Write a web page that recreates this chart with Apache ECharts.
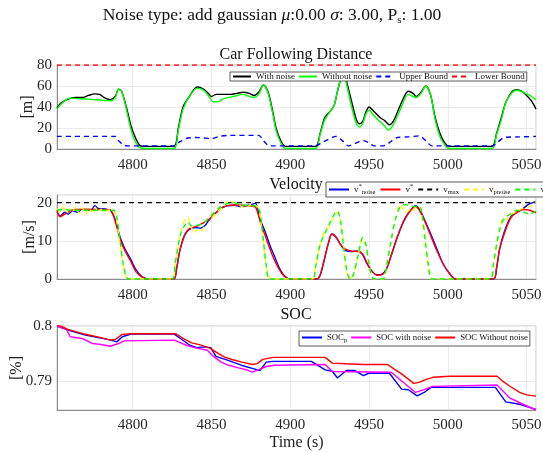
<!DOCTYPE html>
<html>
<head>
<meta charset="utf-8">
<script src="https://cdn.jsdelivr.net/npm/echarts@6/dist/echarts.min.js"></script>
<style>
  html, body { margin: 0; padding: 0; background: #fff; }
  #chart { width: 543px; height: 452px; }
</style>
</head>
<body>
<div id="chart"></div>
<script>
// ---- data ----
const timeRange = [4752, 5056];

// Car following distance [m]
const distWithNoise = [[4752,39],[4754,43],[4757,46],[4760,48],[4764,49],[4768,49],[4772,51],[4776,52.5],[4779,52],[4782,49],[4786,47],[4789,50],[4791,57],[4793,55],[4796,40],[4799,22],[4802,10],[4805,3],[4808,2.5],[4826,2.5],[4829,20],[4832,40],[4836,50],[4841,59],[4845,57],[4848,53],[4850,50],[4853,52],[4858,52],[4862,52],[4866,53],[4870,54],[4874,53],[4877,51],[4880,54],[4883,61],[4886,54],[4889,35],[4891,20],[4894,8],[4897,2.5],[4916,2.5],[4919,15],[4922,30],[4926,37],[4928,42],[4930,55],[4932,66],[4934,71],[4936,63],[4939,45],[4942,28],[4944,24],[4946,26],[4948,35],[4950,40],[4953,36],[4957,30],[4960,27],[4963,23],[4966,28],[4970,42],[4975,55],[4978,53],[4980,50],[4983,54],[4986,60],[4989,52],[4992,30],[4995,15],[4998,6],[5001,2.5],[5028,2.5],[5031,15],[5034,30],[5037,45],[5041,55],[5044,56.5],[5047,55],[5050,51],[5053,46],[5056,38]];
const distWithoutNoise = [[4752,38],[4754,42],[4757,46],[4760,48.5],[4765,48],[4772,47.5],[4780,46.5],[4786,46],[4789,49],[4791,57],[4793,55],[4796,38],[4799,18],[4802,6],[4805,1],[4808,0.5],[4826,0.5],[4829,18],[4832,38],[4836,50],[4841,58],[4845,56],[4849,49],[4851,45],[4854,45],[4858,48],[4864,50],[4870,52],[4874,50],[4877,49],[4880,52],[4883,61],[4886,53],[4889,33],[4891,18],[4894,6],[4897,0.5],[4916,0.5],[4919,14],[4922,28],[4926,37],[4928,42],[4930,55],[4932,66],[4934,70],[4936,60],[4939,40],[4942,24],[4944,21],[4946,24],[4948,33],[4950,37],[4953,32],[4957,26],[4960,22],[4962,18],[4965,22],[4970,38],[4975,52],[4978,50],[4980,49],[4983,53],[4986,60],[4989,52],[4992,28],[4995,12],[4998,4],[5001,0.5],[5028,0.5],[5031,14],[5034,28],[5037,45],[5041,54],[5044,56],[5048,54],[5052,51],[5056,47]];
const distUpperBound = [[4752,12],[4789,12],[4791,8],[4794,4],[4797,3],[4826,3],[4830,7],[4834,10],[4840,11],[4845,10.5],[4850,10],[4855,12],[4861,13],[4880,13],[4883,8],[4887,3],[4916,3],[4920,6],[4924,9],[4929,12],[4933,8],[4937,3],[4941,5],[4946,8],[4950,6],[4953,3],[4959,3],[4963,6],[4968,11],[4975,11.5],[4982,12.5],[4986,8],[4990,3],[5028,3],[5032,7],[5036,11],[5045,11.5],[5056,12]];
const distLowerBound = [[4752,80],[5056,80]];

// Velocity [m/s]
const velNoise = [[4752,17.5],[4754,16.5],[4757,17.5],[4759,17],[4762,17.8],[4765,17.5],[4768,18.3],[4771,18],[4774,18.2],[4776,19.2],[4778,18.5],[4781,18.4],[4784,18.2],[4786,18],[4789,15.5],[4792,11],[4795,8],[4799,5],[4802,2.5],[4806,0.6],[4810,0],[4826,0],[4828,3],[4830,7.5],[4833,11.5],[4836,13],[4840,13.5],[4843,13.3],[4846,14],[4848,15.2],[4852,17],[4856,18.5],[4860,19.2],[4865,19.3],[4868,19],[4872,19.2],[4876,19.6],[4878,19.8],[4881,15.5],[4884,12.5],[4887,9],[4890,6],[4893,3],[4896,1],[4900,0],[4917,0],[4919,1],[4921,4],[4924,9],[4926.5,11.8],[4929,11],[4932,9],[4935,7.5],[4939,7.2],[4943,7.3],[4946,6.3],[4949,3.8],[4952,2],[4955,1.1],[4958,1.2],[4961,2.6],[4964,6],[4968,11],[4972,15.2],[4976,17.8],[4979.5,19.2],[4982,18.2],[4985,15.8],[4989,12],[4993,8],[4997,4],[5001,1.5],[5005,0],[5029,0],[5031,3],[5033,8],[5036,12.5],[5040,16.3],[5044,17.5],[5048,18.5],[5051,19.5],[5054,20],[5056,20.3]];
const velOpt = [[4752,18],[4754,16.3],[4757,17],[4760,17.8],[4764,18.2],[4770,18.3],[4780,18.2],[4786,18],[4789,15],[4792,10.5],[4795,7.5],[4799,4.5],[4802,2],[4806,0.5],[4810,0],[4826,0],[4828,3],[4830,7.5],[4833,11.5],[4836,13.2],[4840,13.7],[4844,14.5],[4848,15.5],[4852,17],[4856,18.5],[4860,19.2],[4865,19.4],[4870,19.3],[4875,19.1],[4878,18.8],[4881,15],[4884,11.5],[4887,8],[4890,5],[4893,2.5],[4896,0.8],[4900,0],[4917,0],[4919,1],[4921,4],[4924,9],[4926.5,11.8],[4929,11],[4932,9],[4935,7.8],[4939,7.3],[4943,7.2],[4946,6.5],[4949,4],[4952,2],[4955,1],[4958,1.1],[4961,2.5],[4964,6],[4968,11],[4972,15],[4976,17.8],[4979.5,19],[4982,18],[4985,15.5],[4989,11.5],[4993,7.5],[4997,4],[5001,1.5],[5005,0],[5029,0],[5031,3],[5033,8],[5036,12],[5040,16],[5044,17.5],[5048,18.2],[5052,18],[5056,17.3]];
const velMax = [[4752,20],[5056,20]];
const velPNoise = [[4752,18.5],[4754,17.5],[4756,18.8],[4758,17.3],[4760,18.5],[4762,17.8],[4764,18.9],[4766,17.2],[4768,18.6],[4770,16.8],[4772,18.5],[4774,17.6],[4776,18.9],[4778,17.5],[4780,18.3],[4782,17.2],[4784,18],[4787,18],[4789,17],[4791,12],[4793,6],[4795,2],[4797,0],[4825,0],[4827,4],[4829,9],[4831,13],[4833,15.5],[4835,16.2],[4837,14],[4839,12],[4841,12.8],[4843,12.2],[4845,13.5],[4847,15.5],[4850,16],[4854,17.8],[4858,19],[4861,20.5],[4863,20.2],[4866,19.8],[4869,19],[4872,18.5],[4875,19.5],[4878,19.3],[4880,18.5],[4882,13],[4884,6],[4886,1],[4888,0],[4914,0],[4916,3],[4919,9],[4922,12.5],[4925,14],[4928,16.5],[4930,17.5],[4932,15],[4934,8],[4936,2],[4938,0],[4940,1],[4943,6],[4946,10.5],[4948,9],[4950,4],[4952,0.5],[4954,0],[4959,0],[4961,3],[4964,10],[4967,16],[4970,19.5],[4972,18],[4974,17.5],[4976,18.2],[4978,17.6],[4980,19],[4982,19],[4984,15],[4986,8],[4988,2],[4990,0],[5027,0],[5029,4],[5031,9],[5033,13],[5035,16],[5037,15.5],[5040,17],[5043,17.5],[5046,18.2],[5049,18.6],[5052,19],[5054,19.5],[5056,20.3]];
const velP = [[4752,18],[4756,18.3],[4760,18],[4770,18],[4780,18],[4788,18],[4790,16],[4792,10],[4794,4],[4796,0.5],[4798,0],[4825,0],[4827,4],[4829,9],[4831,12.5],[4833,14],[4835,15],[4837,14],[4840,14],[4844,14.5],[4848,15.8],[4852,17.5],[4856,19],[4860,19.7],[4864,20],[4868,19.5],[4872,19.3],[4876,19.2],[4879,19],[4881,17],[4883,10],[4885,3],[4887,0],[4914,0],[4916,3],[4919,9],[4922,12],[4925,14.5],[4928,17],[4930,17.8],[4932,15],[4934,8],[4936,2],[4938,0],[4940,1],[4943,6],[4946,10.8],[4948,9],[4950,4],[4952,0.5],[4954,0],[4959,0],[4961,3],[4964,10],[4967,16],[4970,19],[4973,19.5],[4978,19],[4982,19],[4984,16],[4986,9],[4988,3],[4990,0],[5027,0],[5029,4],[5031,9],[5033,13],[5036,16],[5040,17],[5044,18],[5048,17.5],[5052,17],[5056,17.8]];

// State of charge
const socP = [[4752,0.8],[4759,0.79927],[4770,0.79835],[4780,0.7978],[4786,0.79744],[4790,0.79713],[4793.4,0.79805],[4799,0.79854],[4826.4,0.79854],[4831,0.7976],[4836.3,0.79652],[4840.7,0.7961],[4845,0.79622],[4849.6,0.7961],[4852.9,0.79451],[4860.6,0.79378],[4869.4,0.79287],[4877,0.79226],[4880.8,0.79195],[4884.8,0.79348],[4889.2,0.7936],[4913.4,0.7936],[4922.2,0.79207],[4926.7,0.79183],[4930,0.79061],[4935.5,0.79195],[4941,0.79195],[4946.5,0.79104],[4949.8,0.79146],[4963,0.79146],[4970.7,0.7886],[4975,0.78848],[4980.6,0.78738],[4985,0.78799],[4989.4,0.7889],[5030.2,0.7889],[5036.8,0.78628],[5045.6,0.78585],[5056,0.78494]];
const socWithNoise = [[4752,0.8],[4758,0.79939],[4760.4,0.79805],[4768,0.79774],[4774.7,0.79683],[4780,0.79665],[4785.7,0.79634],[4791.2,0.79683],[4794.5,0.79732],[4826.4,0.79744],[4834.1,0.79652],[4840,0.79605],[4847.4,0.79561],[4851,0.7946],[4856.2,0.79348],[4861,0.7929],[4867.2,0.79244],[4872,0.7921],[4876,0.79165],[4880,0.7921],[4884.8,0.79268],[4890,0.7929],[4922.2,0.79305],[4926.7,0.79177],[4964.1,0.79165],[4968.5,0.79061],[4974,0.7893],[4979.5,0.78799],[4985,0.7885],[4990.5,0.78909],[5031.3,0.78933],[5039,0.78707],[5047,0.78595],[5056,0.78482]];
const socWithoutNoise = [[4752,0.8],[4753.5,0.80012],[4759,0.79939],[4770,0.7985],[4780,0.7979],[4786,0.79744],[4789,0.79756],[4793.4,0.79848],[4799,0.7986],[4827.5,0.7986],[4832,0.79775],[4837.4,0.79695],[4843,0.7966],[4849.6,0.79591],[4854,0.7951],[4858.4,0.79439],[4863,0.79395],[4869.4,0.79348],[4876,0.79305],[4879,0.7932],[4882.6,0.79396],[4889.2,0.79433],[4922.2,0.79433],[4926.7,0.79329],[4935.5,0.79317],[4946.5,0.79305],[4961.9,0.79305],[4966,0.7922],[4970.7,0.79134],[4978.4,0.78963],[4981.7,0.78982],[4986,0.7903],[4990.5,0.79073],[5001.5,0.79091],[5031.3,0.79091],[5035,0.79],[5039,0.7892],[5045.6,0.78799],[5050,0.78755],[5056,0.78732]];

const distNames = ["With noise", "Without noise", "Upper Bound", "Lower Bound"];
const velNames = ["v*noise", "v*", "vmax", "vpnoise", "vp"];
const socNames = ["SOCp", "SOC with noise", "SOC Without noise"];

// ---- chart ----
const FONT = "Liberation Serif";
const chart = echarts.init(document.getElementById("chart"), null, { renderer: "canvas" });

const grids = [
  { left: 57, right: 7, top: 65, height: 84 },
  { left: 57, right: 7, top: 195, height: 84 },
  { left: 57, right: 7, top: 326, height: 84 },
];

function timeAxis(gridIndex, withName) {
  return {
    type: "value",
    gridIndex,
    min: timeRange[0],
    max: timeRange[1],
    splitNumber: 6,
    minInterval: 50,
    maxInterval: 50,
    name: withName ? "Time (s)" : "",
    nameLocation: "middle",
    nameGap: 25,
    nameMoveOverlap: false,
    nameTextStyle: { fontFamily: FONT, fontSize: 16, color: "#222" },
    axisLine: { show: true, lineStyle: { color: "#8c8c8c", width: 1 } },
    axisTick: { show: false },
    axisLabel: {
      fontFamily: FONT, fontSize: 15, color: "#262626", margin: withName ? 8 : 9,
      formatter: (v) => (Math.abs(v % 50) < 1e-6 ? String(v) : ""),
    },
    splitLine: { show: true, lineStyle: { color: "#ebebeb", width: 1 } },
  };
}

function valueAxis(gridIndex, name, nameGap, extra) {
  return Object.assign({
    type: "value",
    gridIndex,
    name,
    nameLocation: "middle",
    nameGap,
    nameRotate: 90,
    nameMoveOverlap: false,
    nameTextStyle: { fontFamily: FONT, fontSize: 16, color: "#222" },
    axisLine: { show: true, lineStyle: { color: "#8c8c8c", width: 1 } },
    axisTick: { show: false },
    axisLabel: { fontFamily: FONT, fontSize: 15, color: "#262626", margin: 5 },
    splitLine: { show: true, lineStyle: { color: "#ebebeb", width: 1 } },
  }, extra);
}

function line(name, data, axis, color, dashed, smooth) {
  return {
    type: "line",
    name,
    data,
    xAxisIndex: axis,
    yAxisIndex: axis,
    symbol: "none",
    smooth: smooth ? 0.3 : false,
    clip: true,
    lineStyle: { color, width: 1.4, type: dashed ? [5, 4] : "solid" },
    itemStyle: { color },
    emphasis: { disabled: true },
    animation: false,
  };
}

const legendBase = {
  orient: "horizontal",
  itemWidth: 20,
  itemHeight: 8,
  itemGap: 3,
  backgroundColor: "#fff",
  borderColor: "#333",
  borderWidth: 0.8,
  borderRadius: 0,
  selectedMode: false,
  itemStyle: { opacity: 0 },
  textStyle: { fontFamily: FONT, fontSize: 9, color: "#111" },
};

const velLabels = {
  "v*noise": "{v|v}{sup|*}{sub|noise}",
  "v*": "{v|v}{sup|*}",
  "vmax": "{v|v}{sub|max}",
  "vpnoise": "{v|v}{sub|pnoise}",
  "vp": "{v|v}{sub|p}",
};
const subRich = {
  v: { fontFamily: FONT, fontSize: 9, color: "#111" },
  t: { fontFamily: FONT, fontSize: 8.7, color: "#111" },
  sup: { fontFamily: FONT, fontSize: 6.5, color: "#111", padding: [0, 0, 6, 0] },
  sub: { fontFamily: FONT, fontSize: 6.5, color: "#111", padding: [6, 0, 0, 0] },
};

const titleRich = {
  n: { fontFamily: FONT, fontSize: 17.5, color: "#111" },
  i: { fontFamily: FONT, fontSize: 17.5, fontStyle: "italic", color: "#111" },
  s: { fontFamily: FONT, fontSize: 11, color: "#111", padding: [10, 0, 0, 0] },
};

const option = {
  backgroundColor: "#fff",
  animation: false,
  grid: grids.map((g) => Object.assign({ show: true, borderColor: "#c8c8c8", borderWidth: 1, backgroundColor: "transparent", outerBoundsMode: "none", containLabel: false }, g)),
  xAxis: [timeAxis(0, false), timeAxis(1, false), timeAxis(2, true)],
  yAxis: [
    valueAxis(0, "[m]", 21, { min: 0, max: 80, interval: 20 }),
    valueAxis(1, "[m/s]", 19, { min: 0, max: 22, interval: 10, axisLabel: { fontFamily: FONT, fontSize: 15, color: "#262626", margin: 5, showMaxLabel: false, formatter: (v) => (v % 10 === 0 ? String(v) : "") } }),
    valueAxis(2, "[%]", 32, {
      min: 0.78482, max: 0.8, splitNumber: 2,
      axisLabel: {
        fontFamily: FONT, fontSize: 15, color: "#262626", margin: 5,
        formatter: (v) => (Math.abs(v * 100 - Math.round(v * 100)) < 1e-6 ? String(Math.round(v * 100) / 100) : ""),
      },
    }),
  ],
  legend: [
    Object.assign({}, legendBase, { left: 230, top: 72, width: 320, itemWidth: 18, padding: [0, 2, 0, 2], data: distNames }),
    Object.assign({}, legendBase, {
      left: 326, top: 182, width: 320, itemGap: 4, padding: [1, 2, 1, 2], data: velNames,
      formatter: (n) => velLabels[n],
      textStyle: Object.assign({}, legendBase.textStyle, { rich: subRich }),
    }),
    Object.assign({}, legendBase, {
      left: 299, top: 331, width: 320, padding: [2, 2, 2, 2], data: socNames,
      formatter: (n) => (n === "SOCp" ? "{t|SOC}{sub|p}" : "{t|" + n + "}"),
      textStyle: Object.assign({}, legendBase.textStyle, { fontSize: 8.7, rich: subRich }),
    }),
  ],
  graphic: [
    {
      type: "text", x: 272, y: 5,
      style: {
        text: "{n|Noise type: add gaussian }{i|μ}{n|:0.00 }{i|σ}{n|: 3.00, P}{s|s}{n|: 1.00}",
        fontFamily: FONT, fontSize: 17.5, fill: "#111", align: "center",
        rich: titleRich,
      },
    },
    { type: "text", x: 296, y: 47, style: { text: "Car Following Distance", fontFamily: FONT, fontSize: 16, fill: "#111", align: "center" } },
    { type: "text", x: 296, y: 177, style: { text: "Velocity", fontFamily: FONT, fontSize: 16, fill: "#111", align: "center" } },
    { type: "text", x: 296, y: 307, style: { text: "SOC", fontFamily: FONT, fontSize: 16, fill: "#111", align: "center" } },
  ],
  series: [
    line("With noise", distWithNoise, 0, "#000000", false, true),
    line("Without noise", distWithoutNoise, 0, "#00ff00", false, true),
    line("Upper Bound", distUpperBound, 0, "#0000ff", true, true),
    line("Lower Bound", distLowerBound, 0, "#ff0000", true, false),

    line("v*noise", velNoise, 1, "#0000ff", false, true),
    line("v*", velOpt, 1, "#ff0000", false, true),
    line("vmax", velMax, 1, "#000000", true, false),
    line("vpnoise", velPNoise, 1, "#ffff00", true, true),
    line("vp", velP, 1, "#00ff00", true, true),

    line("SOCp", socP, 2, "#0000ff", false, false),
    line("SOC with noise", socWithNoise, 2, "#ff00ff", false, false),
    line("SOC Without noise", socWithoutNoise, 2, "#ff0000", false, false),
  ],
};

chart.setOption(option);
</script>
</body>
</html>
